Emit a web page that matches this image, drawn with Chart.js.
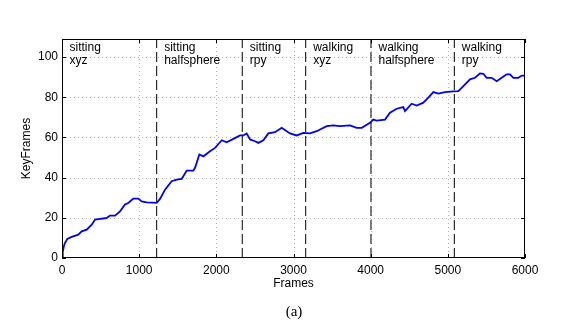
<!DOCTYPE html>
<html><head><meta charset="utf-8">
<script src="https://cdn.jsdelivr.net/npm/chart.js@4/dist/chart.umd.min.js"></script>
<style>
html,body{margin:0;padding:0;background:#fff;}
#wrap{position:relative;width:565px;height:329px;}
#cap{position:absolute;left:0;width:588px;top:303px;text-align:center;font-family:"Liberation Serif","DejaVu Serif",serif;font-size:15px;line-height:17px;color:#000;}
</style></head><body>
<div id="wrap"><canvas id="c" width="565" height="329"></canvas><div id="cap">(a)</div></div>
<script>
const frames = [0,10,25,39,69,125,211,255,320,385,428,471,579,622,687,752,816,859,924,989,1032,1097,1227,1270,1335,1421,1486,1551,1572,1616,1702,1724,1780,1832,1918,1983,2070,2134,2221,2307,2350,2393,2437,2501,2544,2609,2674,2760,2847,2912,2955,3041,3127,3214,3300,3430,3516,3603,3732,3819,3884,3991,4034,4078,4186,4250,4337,4423,4445,4531,4596,4682,4747,4812,4877,4963,5071,5136,5201,5287,5352,5417,5460,5503,5568,5633,5698,5762,5806,5849,5914,5957,6000];
const keyFrames = [0,3,6,7.5,9.5,10.5,11.6,13.3,14.1,16.6,19.1,19.4,19.9,21.1,21.1,23.2,26.6,27.4,29.6,29.6,28.2,27.7,27.4,29.4,34,38.2,39,39.4,40.7,43.5,43.5,44.9,51.5,50.6,53.1,54.8,58.6,57.6,59.3,61,61,62,59,58.1,57.3,58.6,62,62.6,64.8,63.1,62,61,62.3,62,63.1,65.6,66,65.6,66,64.8,64.8,67.3,68.9,68.4,68.9,72.3,74.3,75.1,73.1,76.8,75.9,77.3,79.8,82.6,81.8,82.6,82.9,83,85.5,88.9,89.7,91.9,91.7,89.7,89.7,88,89.7,91.4,91.4,89.7,89.7,90.8,90.8];
const boundaries = [0,1227,2336,3158,4004,5084];
const segLine1 = ['sitting','sitting','sitting','walking','walking','walking'];
const segLine2 = ['xyz','halfsphere','rpy','xyz','halfsphere','rpy'];
const xTicks = [0,1000,2000,3000,4000,5000,6000];
const yTicks = [0,20,40,60,80,100];
const yMax = 109;

const FONT = '"Liberation Sans", Arial, Helvetica, sans-serif';

const mainData = frames.map((f,i)=>({x:f,y:keyFrames[i]}));
const datasets = boundaries.slice(1).map(b=>({
  data:[{x:b,y:0},{x:b,y:yMax}],
  borderColor:'#000', borderWidth:1, borderDash:[10,4], pointRadius:0, showLine:true, fill:false
}));
datasets.push({data:mainData, borderColor:'#0000ff', borderWidth:1.8, pointRadius:0, showLine:true, fill:false, tension:0});

const deco = {
  id:'deco',
  beforeDatasetsDraw(chart){
    const {ctx, chartArea:a, scales:{x,y}} = chart;
    ctx.save();
    ctx.strokeStyle='#b0b0b0'; ctx.lineWidth=1; ctx.setLineDash([1,3]);
    xTicks.slice(1,-1).forEach(v=>{const px=Math.round(x.getPixelForValue(v))+0.5;ctx.beginPath();ctx.moveTo(px,a.top);ctx.lineTo(px,a.bottom);ctx.stroke();});
    yTicks.slice(1).forEach(v=>{const py=Math.round(y.getPixelForValue(v))+0.5;ctx.beginPath();ctx.moveTo(a.left,py);ctx.lineTo(a.right,py);ctx.stroke();});
    ctx.restore();
  },
  afterDatasetsDraw(chart){
    const {ctx, chartArea:a, scales:{x,y}} = chart;
    ctx.save();
    ctx.strokeStyle='#000'; ctx.lineWidth=1; ctx.setLineDash([]);
    xTicks.forEach(v=>{const px=Math.round(x.getPixelForValue(v))+0.5;ctx.beginPath();ctx.moveTo(px,a.bottom);ctx.lineTo(px,a.bottom-4);ctx.moveTo(px,a.top);ctx.lineTo(px,a.top+4);ctx.stroke();});
    yTicks.forEach(v=>{const py=Math.round(y.getPixelForValue(v))+0.5;ctx.beginPath();ctx.moveTo(a.left,py);ctx.lineTo(a.left+4,py);ctx.moveTo(a.right,py);ctx.lineTo(a.right-4,py);ctx.stroke();});
    ctx.strokeRect(Math.round(a.left)+0.5,Math.round(a.top)+0.5,Math.round(a.width)-1,Math.round(a.height)-1);
    ctx.fillStyle='#000'; ctx.font='12px '+FONT; ctx.textBaseline='middle'; ctx.textAlign='left';
    boundaries.forEach((b,i)=>{
      const px=x.getPixelForValue(b)+7.5;
      ctx.fillText(segLine1[i],px,a.top+8.5);
      ctx.fillText(segLine2[i],px,a.top+21.5);
    });
    ctx.restore();
  }
};

new Chart(document.getElementById('c'),{
  type:'scatter',
  data:{datasets},
  options:{
    responsive:false, animation:false,
    layout:{padding:{top:39,right:40,bottom:0,left:0}},
    plugins:{legend:{display:false},tooltip:{enabled:false}},
    scales:{
      x:{type:'linear',min:0,max:6000,
        afterBuildTicks:s=>{s.ticks=xTicks.map(v=>({value:v}));},
        afterFit:s=>{s.height=71;},
        grid:{display:false,drawTicks:false,tickLength:0},border:{display:false},
        ticks:{color:'#000',font:{family:FONT,size:12},padding:5,maxRotation:0,autoSkip:false,callback:v=>String(v)},
        title:{display:true,text:'Frames',color:'#000',font:{family:FONT,size:12},padding:{top:0,bottom:38}}
      },
      y:{type:'linear',min:0,max:yMax,
        afterBuildTicks:s=>{s.ticks=yTicks.map(v=>({value:v}));},
        afterFit:s=>{s.width=62;},
        grid:{display:false,drawTicks:false,tickLength:0},border:{display:false},
        ticks:{color:'#000',font:{family:FONT,size:12},padding:4,autoSkip:false,callback:v=>String(v)},
        title:{display:true,text:'KeyFrames',color:'#000',font:{family:FONT,size:12},padding:{top:19,bottom:0}}
      }
    }
  },
  plugins:[deco]
});
</script>
</body></html>
